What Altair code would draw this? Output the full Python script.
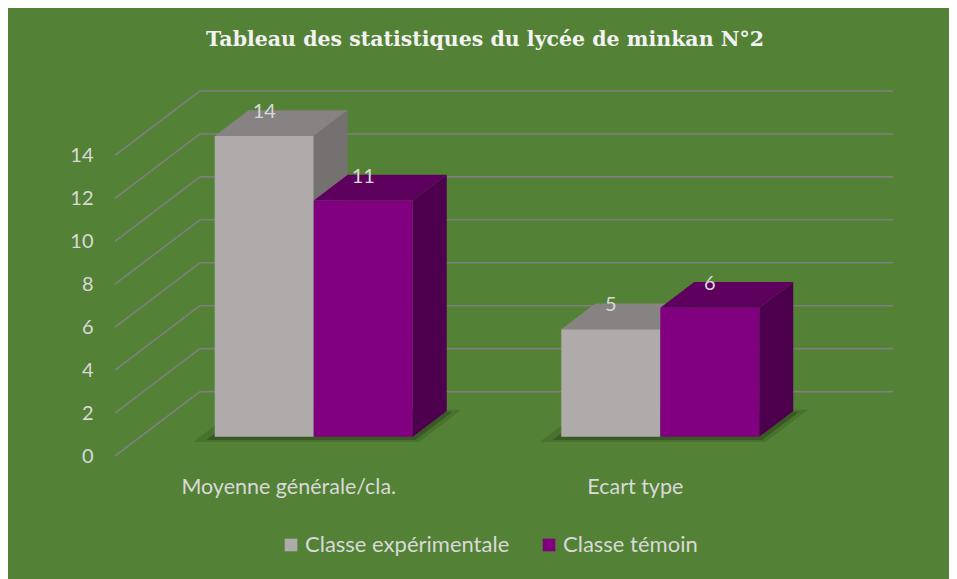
import json
import altair as alt
import pandas as pd

# ---- data ----
categories = ["Moyenne générale/cla.", "Ecart type"]
series = ["Classe expérimentale", "Classe témoin"]
values_experimentale = [14, 5]
values_temoin = [11, 6]
tick_values = [0, 2, 4, 6, 8, 10, 12, 14]
chart_title = "Tableau des statistiques du lycée de minkan N°2"

# ---- style ----
BG = "#538135"
TXT = "#D9D9D9"
GRID = "#7F7F7F"
FRONT = ["#AFABAB", "#800080"]
TOP = ["#878383", "#5E005E"]
SIDE = ["#767171", "#4D004D"]
FONT = "Lato"

# oblique 3D projection parameters (in scale units)
DX = 0.245      # x shift for full depth (category-slot units)
DY = 3.0        # y shift for full depth (value units)
D0, D1 = 0.3, 0.7   # depth span of the bars
BAR_W = 1 / 3.5
GAP = 1.5 * BAR_W
Y_MAX = max(tick_values) + DY

all_values = [values_experimentale, values_temoin]

front_rows, top_rows, side_rows, label_rows, shadow_rows = [], [], [], [], []
for i, cat in enumerate(categories):
    for j, ser in enumerate(series):
        v = all_values[j][i]
        xf0 = i + GAP / 2 + j * BAR_W + D0 * DX
        xf1 = xf0 + BAR_W
        sx = (D1 - D0) * DX
        front_rows.append(dict(cat=cat, series=ser, x=xf0, x2=xf1, y=D0 * DY, y2=v + D0 * DY))
        top_rows.append(dict(cat=cat, series=ser, ty=v + D0 * DY, tx=xf0, tx2=xf1))
        top_rows.append(dict(cat=cat, series=ser, ty=v + D1 * DY, tx=xf0 + sx, tx2=xf1 + sx))
        side_rows.append(dict(cat=cat, series=ser, sx=xf1, sy=D0 * DY, sy2=v + D0 * DY))
        side_rows.append(dict(cat=cat, series=ser, sx=xf1 + sx, sy=D1 * DY, sy2=v + D1 * DY))
        label_rows.append(dict(cat=cat, series=ser, lx=(xf0 + xf1) / 2, ly=v + D0 * DY, val=v))
    g0 = i + GAP / 2
    g1 = g0 + 2 * BAR_W
    for k, (ext, op) in enumerate([(0.05, 0.15), (0.02, 0.3)]):
        for d in (D0 - ext, D1 + ext):
            shadow_rows.append(dict(cat=cat, lvl=k, op=op, hy=d * DY - 0.1,
                                    hx=g0 - ext + d * DX, hx2=g1 + ext * 0.6 + d * DX))

grid_rows = []
for t in tick_values:
    grid_rows.append(dict(gx=DX, gx2=len(categories) + DX, gy=t + DY, gy2=t + DY))
    grid_rows.append(dict(gx=0, gx2=DX, gy=t, gy2=t + DY))

front_df = pd.DataFrame(front_rows)
top_df = pd.DataFrame(top_rows)
side_df = pd.DataFrame(side_rows)
label_df = pd.DataFrame(label_rows)
shadow_df = pd.DataFrame(shadow_rows)
grid_df = pd.DataFrame(grid_rows)

xscale = alt.Scale(domain=[0, len(categories) + DX], nice=False, zero=False)
yscale = alt.Scale(domain=[0, Y_MAX], nice=False, zero=False)

label_expr = json.dumps(categories) + "[floor(datum.value)]"
xaxis = alt.Axis(values=[k + 0.5 for k in range(len(categories))], labelExpr=label_expr,
                 title=None, domain=False, ticks=False, grid=False, labelColor=TXT,
                 labelFont=FONT, labelFontSize=21.5, labelPadding=20, labelFlush=False,
                 labelOverlap=False, labelLimit=0)
yaxis = alt.Axis(values=tick_values, title=None, domain=False, ticks=False, grid=False,
                 labelColor=TXT, labelFont=FONT, labelFontSize=20, labelPadding=22)


def X(field):
    return alt.X(field, type="quantitative", scale=xscale, axis=xaxis)


def Y(field):
    return alt.Y(field, type="quantitative", scale=yscale, axis=yaxis)


layers = []

for k in (0, 1):
    op = float(shadow_df[shadow_df.lvl == k].op.iloc[0])
    shadow = alt.Chart(shadow_df).transform_filter(alt.datum.lvl == k).mark_area(
        orient="horizontal", color="#142010", opacity=op).encode(
        y=Y("hy"), x=X("hx"), x2="hx2", detail="cat:N")
    layers.append(shadow)

grid = alt.Chart(grid_df).mark_rule(color=GRID, strokeWidth=1.6).encode(
    x=X("gx"), x2="gx2", y=Y("gy"), y2="gy2")
layers.append(grid)

color_scale = alt.Scale(domain=series, range=FRONT)
for j, ser in enumerate(series):
    f = alt.Chart(front_df).transform_filter(alt.datum.series == ser).mark_rect().encode(
        x=X("x"), x2="x2", y=Y("y"), y2="y2",
        color=alt.Color("series:N", scale=color_scale,
                        legend=alt.Legend(title=None, orient="none", direction="horizontal",
                                          legendX=165, legendY=443, symbolType="square",
                                          symbolSize=160, symbolStrokeWidth=0, symbolOpacity=1,
                                          labelColor=TXT, labelFont=FONT, labelFontSize=22,
                                          labelOffset=3, columnPadding=28, padding=0,
                                          labelLimit=0)))
    t = alt.Chart(top_df).transform_filter(alt.datum.series == ser).mark_area(
        orient="horizontal", color=TOP[j], opacity=1).encode(
        y=Y("ty"), x=X("tx"), x2="tx2", detail="cat:N")
    s = alt.Chart(side_df).transform_filter(alt.datum.series == ser).mark_area(
        orient="vertical", color=SIDE[j], opacity=1).encode(
        x=X("sx"), y=Y("sy"), y2="sy2", detail="cat:N")
    layers += [f, t, s]

labels = alt.Chart(label_df).mark_text(color=TXT, font=FONT, fontSize=20, baseline="alphabetic",
                                       align="center", dy=-18).encode(
    x=X("lx"), y=Y("ly"), text="val:Q")
layers.append(labels)

chart = alt.layer(*layers).properties(
    width=778, height=365,
    padding={"left": 107, "top": 83, "right": 56, "bottom": 123},
    autosize="none",
    background=BG,
    title=alt.TitleParams(chart_title, font="DejaVu Serif", fontSize=20.5, fontWeight="bold",
                          color="#F2F2F2", anchor="middle", frame="group", dx=-19, offset=24,
                          baseline="alphabetic"),
).configure_view(stroke=None)

chart.save("out.html", embed_options={"renderer": "svg", "actions": False})
